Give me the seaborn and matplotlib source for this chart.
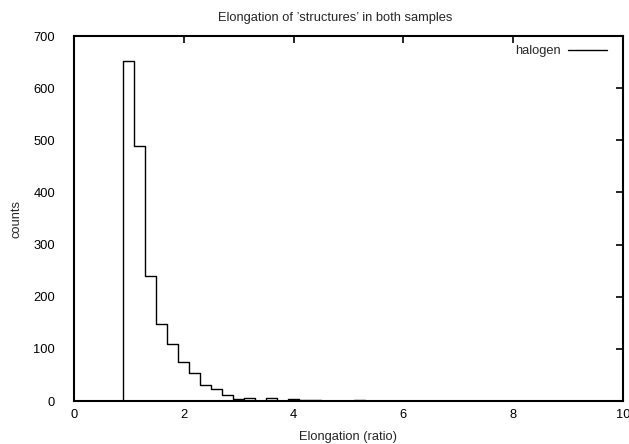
import numpy as np
import pandas as pd
import matplotlib
matplotlib.use('Agg')
import matplotlib.pyplot as plt
import seaborn as sns

# Bin edges (width 0.2) and counts;
# empty bins at both ends so the outline drops to the baseline
bin_edges = [0.7, 0.9, 1.1, 1.3, 1.5, 1.7, 1.9, 2.1, 2.3, 2.5, 2.7, 2.9, 3.1,
             3.3, 3.5, 3.7, 3.9, 4.1, 4.3, 4.5, 4.7, 4.9, 5.1, 5.3, 5.5]
counts = [0, 653, 489, 240, 147, 110, 75, 53, 30, 23, 12, 4, 6, 0,
          6, 0, 3, 2, 2, 0, 0, 0, 2, 0]
x_ticks = [0, 2, 4, 6, 8, 10]
y_ticks = [0, 100, 200, 300, 400, 500, 600, 700]

centers = [(a + b) / 2 for a, b in zip(bin_edges[:-1], bin_edges[1:])]
df = pd.DataFrame({'elongation': centers, 'count': counts})

sns.set_style('white')
plt.rcParams['font.family'] = ['Liberation Sans', 'DejaVu Sans']
FS = 9.3

fig = plt.figure(figsize=(6.29, 4.44), dpi=100)
ax = fig.add_axes([0.1176, 0.0968, 0.8729, 0.8221])

sns.histplot(data=df, x='elongation', weights='count', bins=bin_edges,
             element='step', fill=False, color='black', linewidth=1.0,
             ax=ax, label='halogen')

ax.set_xlim(0, 10)
ax.set_ylim(0, 700)
ax.set_xticks(x_ticks)
ax.set_yticks(y_ticks)
ax.tick_params(direction='in', length=5, width=1.2, top=True, right=True,
               labelsize=FS, colors='black')
ax.tick_params(axis='x', pad=6)
ax.tick_params(axis='y', pad=13.5)
for s in ax.spines.values():
    s.set_linewidth(1.5)
    s.set_color('black')
    s.set_visible(True)

ax.set_title('Elongation of ’structures’ in both samples', fontsize=FS,
             pad=11, x=0.476)
ax.set_xlabel('Elongation (ratio)', fontsize=FS, labelpad=7)
ax.set_ylabel('counts', fontsize=FS, labelpad=8)

ax.legend(loc='upper right', bbox_to_anchor=(0.987, 1.0), frameon=False,
          fontsize=FS, markerfirst=False, handlelength=3.0,
          handletextpad=0.6, borderaxespad=0.3)

fig.savefig('out.png', dpi=100)
plt.close(fig)
